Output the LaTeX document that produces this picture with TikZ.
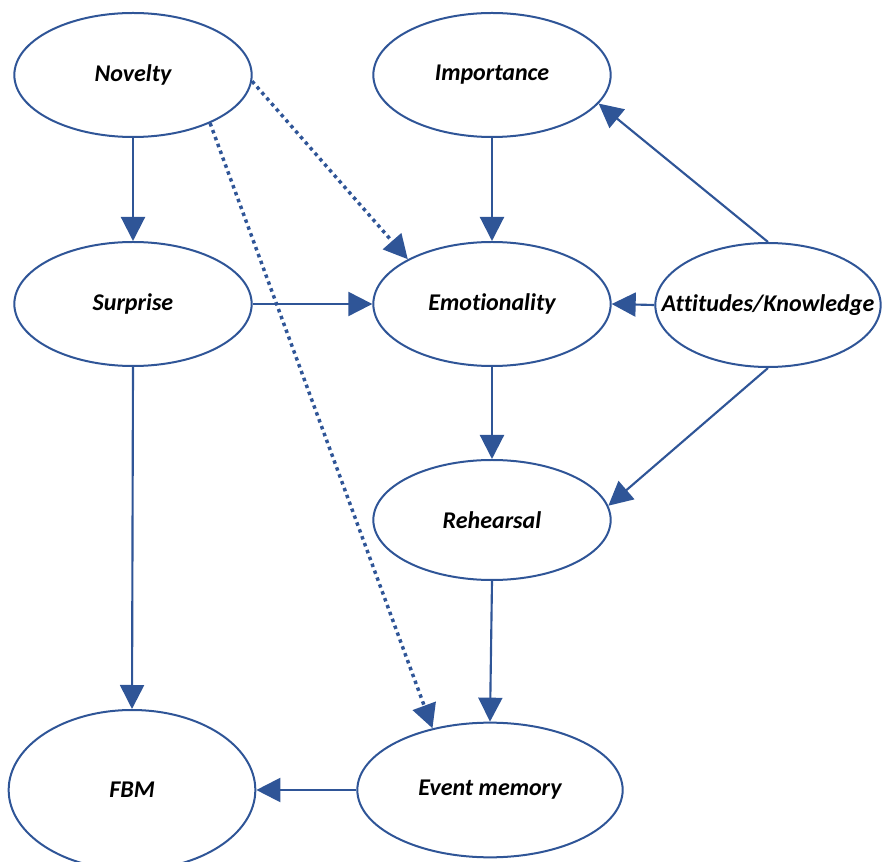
\documentclass[tikz,border=0pt]{standalone}
\usepackage{fontspec}
\setmainfont[RawFeature={-liga,-clig,-dlig,-calt}]{Carlito}
\usepackage{xcolor}
\usepackage{tikz}
\usetikzlibrary{positioning, arrows.meta, shapes.geometric}
\definecolor{lineblue}{HTML}{2F5597}

\begin{document}
\begin{tikzpicture}[
    x=0.75pt, y=-0.75pt,
    >={Triangle[length=18pt,width=18pt]},
    factor/.style={ellipse, draw=lineblue, line width=1.5pt, inner xsep=-25pt, inner ysep=0pt, minimum width=178pt, minimum height=93pt, font=\fontsize{18}{21}\selectfont\bfseries\itshape},
    link/.style={->, draw=lineblue, line width=1.6pt},
    weak/.style={link, line width=2.6pt, dash pattern=on 2.6pt off 2.9pt}
]
\useasboundingbox (0,0) rectangle (882,862);

% Nodes
\node[factor] (nov) at (133,75) {Novelty};
\node[factor] (imp) at (492,75) {Importance};
\node[factor] (sur) at (133,304) {Surprise};
\node[factor] (emo) at (492,304) {Emotionality};
\node[factor, minimum width=169pt] (att) at (768,305) {At\kern0pt t\kern0pt itudes/Knowledge};
\node[factor, minimum height=90pt] (reh) at (492,520) {Rehearsal};
\node[factor, minimum width=185pt, minimum height=120pt] (fbm) at (132,790) {FBM};
\node[factor, minimum width=199pt, minimum height=101pt] (evm) at (490,790) {Event memory};

% Direct links
\draw[link] (nov.south) -- (sur.north);
\draw[link] (imp.south) -- (emo.north);
\draw[link] (sur.east) -- (emo.west);
\draw[link] (att.west) -- (emo.east);
\draw[link] (att.north) -- (imp.-15);
\draw[link] (att.south) -- (reh.7);
\draw[link] (emo.south) -- (reh.north);
\draw[link] (reh.south) -- (evm.north);
\draw[link] (sur.south) -- (fbm.north);
\draw[link] (evm.west) -- (fbm.east);

% Dotted links
\draw[weak] (nov.-3) -- (emo.152);
\draw[weak] (nov.-32) -- (evm.133);

\end{tikzpicture}
\end{document}
